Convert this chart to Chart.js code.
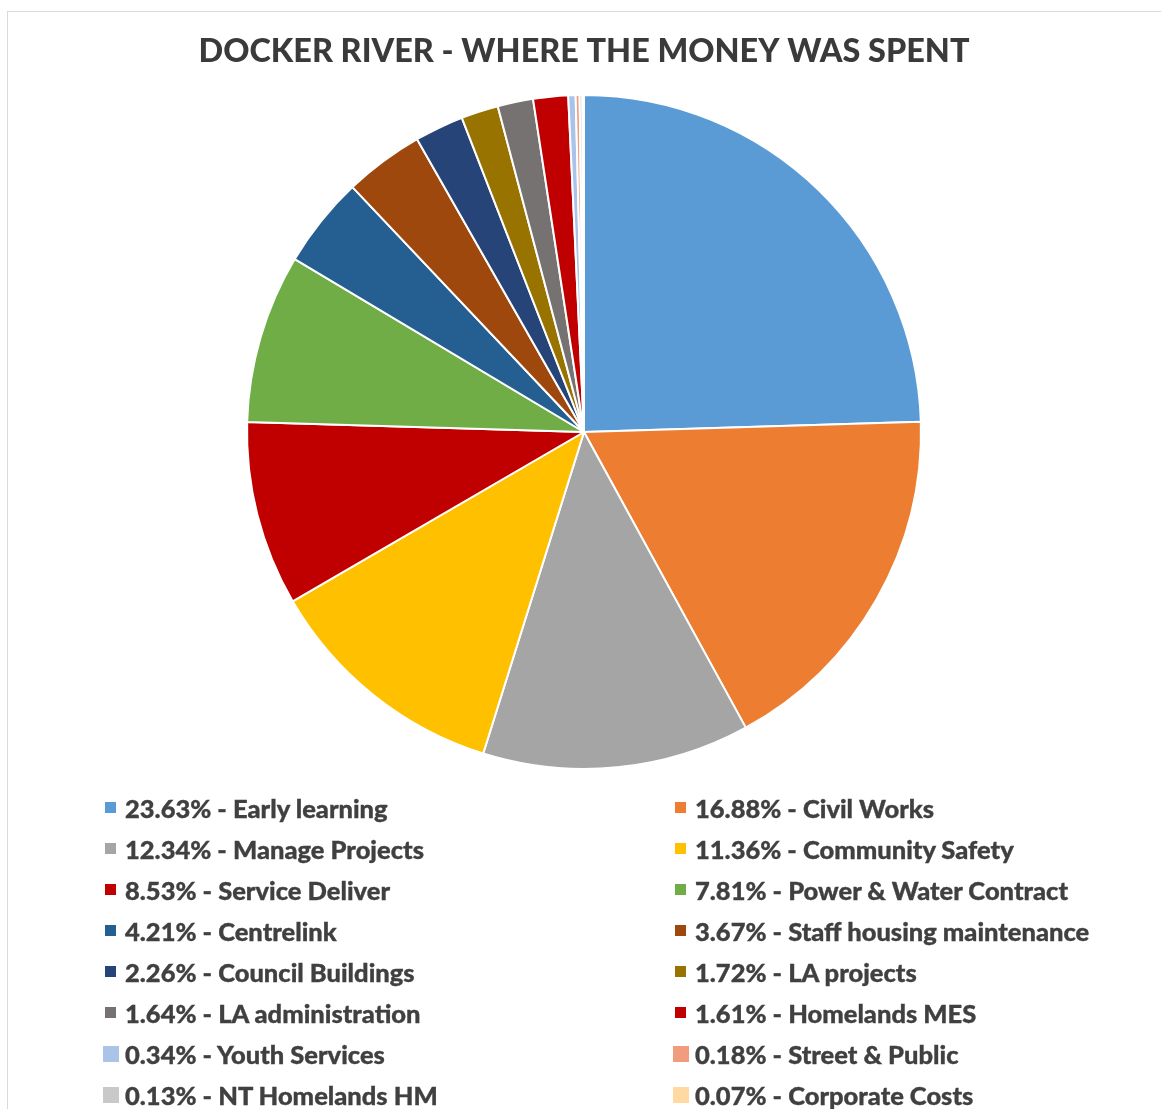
<!DOCTYPE html>
<html>
<head>
<meta charset="utf-8">
<script src="https://cdn.jsdelivr.net/npm/chart.js@4/dist/chart.umd.min.js"></script>
<style>
  html, body { margin: 0; padding: 0; background: #fff; }
  body { width: 1161px; height: 1109px; position: relative; overflow: hidden; }
  #frame { position: absolute; left: 7px; top: 11px; width: 1200px; height: 1200px;
           border: 1px solid #d9d9d9; box-sizing: border-box; }
  #wrap { position: absolute; left: 0; top: 0; width: 1161px; height: 780px; }
  #legend { position: absolute; left: 0; top: 0; width: 1161px; height: 1109px; pointer-events: none; }
  .item { position: absolute; height: 41px; display: flex; align-items: center;
          font-family: Lato, "Open Sans", sans-serif; font-weight: 900; font-size: 25.5px;
          color: #404040; white-space: nowrap; -webkit-text-stroke: 0.35px #404040; }
  .key { width: 17px; height: 17px; display: flex; align-items: center; justify-content: center; }
  .key span { display: block; }
  .txt { margin-left: 6px; }
</style>
</head>
<body>
<div id="frame"></div>
<div id="wrap"><canvas id="pie" width="1161" height="780"></canvas></div>
<div id="legend"></div>
<script>
// Spending categories, in drawing order (clockwise from 12 o'clock)
const categories = [
  "Early learning", "Civil Works", "Manage Projects", "Community Safety",
  "Service Deliver", "Power & Water Contract", "Centrelink", "Staff housing maintenance",
  "Council Buildings", "LA projects", "LA administration", "Homelands MES",
  "Youth Services", "Street & Public", "NT Homelands HM", "Corporate Costs"
];
// Share of spending, percent
const shares = [
  23.63, 16.88, 12.34, 11.36,
  8.53, 7.81, 4.21, 3.67,
  2.26, 1.72, 1.64, 1.61,
  0.34, 0.18, 0.13, 0.07
];
const sliceColors = [
  "#5B9BD5", "#ED7D31", "#A5A5A5", "#FFC000",
  "#C00000", "#70AD47", "#255E91", "#9E480E",
  "#264478", "#997300", "#777272", "#C00000",
  "#A9C4E8", "#F19C7C", "#C9C9C9", "#FFD9A0"
];

const legendLabels = categories.map((c, i) => shares[i].toFixed(2) + "% - " + c);

new Chart(document.getElementById("pie"), {
  type: "pie",
  data: {
    labels: legendLabels,
    datasets: [{
      data: shares,
      backgroundColor: sliceColors,
      borderColor: "#ffffff",
      borderWidth: 2,
      hoverOffset: 0
    }]
  },
  options: {
    responsive: false,
    animation: false,
    radius: 337,
    layout: { padding: { left: 7, right: 0, top: 0, bottom: 11 } },
    plugins: {
      legend: { display: false },
      tooltip: { enabled: false },
      title: {
        display: true,
        text: "DOCKER RIVER - WHERE THE MONEY WAS SPENT",
        color: "#3a3a3a",
        font: { family: "Lato, 'Open Sans', sans-serif", size: 32.4, weight: "900", lineHeight: 1.2 },
        padding: { top: 32, bottom: 24.1 }
      }
    }
  }
});

// Two-column legend under the pie
const legend = document.getElementById("legend");
legendLabels.forEach((text, i) => {
  const col = i % 2, row = Math.floor(i / 2);
  const item = document.createElement("div");
  item.className = "item";
  item.style.left = (col ? 672 : 102) + "px";
  item.style.top = (787 + row * 41) + "px";
  const key = document.createElement("div");
  key.className = "key";
  const sq = document.createElement("span");
  const sz = i >= 12 ? 16 : 11;
  sq.style.width = sz + "px";
  sq.style.height = sz + "px";
  sq.style.background = sliceColors[i];
  key.appendChild(sq);
  const t = document.createElement("span");
  t.className = "txt";
  t.textContent = text;
  item.appendChild(key);
  item.appendChild(t);
  legend.appendChild(item);
});
</script>
</body>
</html>
